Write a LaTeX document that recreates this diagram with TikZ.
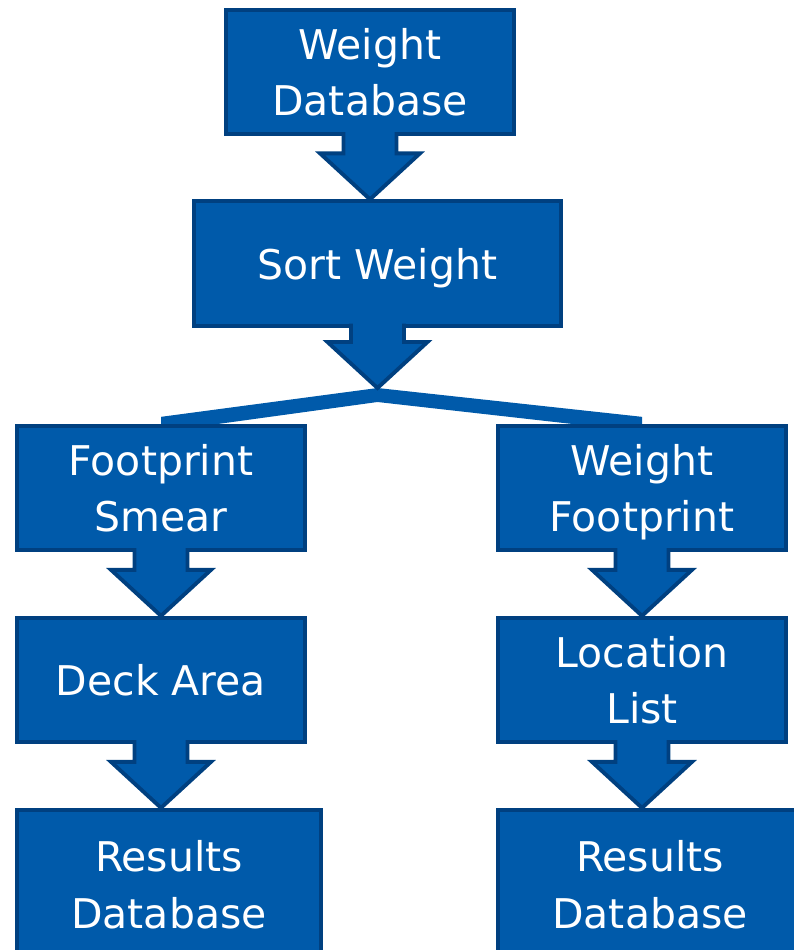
\documentclass[tikz,border=0pt]{standalone}
\usepackage{fontspec}
\newfontfamily\boxfont{DejaVu Sans}
\usetikzlibrary{backgrounds}
\usetikzlibrary{positioning}
\usetikzlibrary{calc}
\definecolor{boxblue}{RGB}{0,90,170}
\definecolor{boxedge}{RGB}{0,64,128}

\tikzset{
  stage/.style={draw=boxedge, fill=boxblue, line width=2.2pt, text=white,
    align=center, inner sep=0pt, minimum width=5.77cm, minimum height=2.49cm,
    text depth=0pt, font=\boxfont\fontsize{23.3}{32.3}\selectfont},
  forkbar/.style={fill=boxblue},
}

% block arrow from the bottom of node #1 down to the point #2
\newcommand{\blkarrow}[2]{%
  \coordinate (t) at (#1.south |- #2);
  \fill[boxblue] ($(#1.south)+(-26.5,-4)$) -- ($(t)+(-26.5,-46)$) -- ($(t)+(-50,-46)$) -- (t)
    -- ($(t)+(50,-46)$) -- ($(t)+(26.5,-46)$) -- ($(#1.south)+(26.5,-4)$) -- cycle;
  \draw[boxedge, line width=2.2pt] ($(#1.south)+(-26.5,-4)$) -- ($(t)+(-26.5,-46)$) -- ($(t)+(-50,-46)$) -- (t)
    -- ($(t)+(50,-46)$) -- ($(t)+(26.5,-46)$) -- ($(#1.south)+(26.5,-4)$);
}

\begin{document}
\begin{tikzpicture}[x=0.02cm, y=-0.02cm]
      \path[use as bounding box, clip] (0,0) rectangle (794,950);

      \node[stage] (wdb)  at (370,72)    {Weight\\Database};
      \node[stage, minimum width=7.35cm] (srt) at (377.5,263.5) {Sort Weight};
      \node[stage] (foot) at (161,488)   {Footprint\\Smear};
      \node[stage] (wfp)  at (642,488)   {Weight\\Footprint};
      \node[stage] (deck) at (161,680)   {Deck Area};
      \node[stage] (loc)  at (642,680)   {Location\\List};
      \node[stage, minimum width=6.09cm, minimum height=2.99cm] (resl) at (169,884.5) {Results\\Database};
      \node[stage, minimum width=6.09cm, minimum height=2.99cm] (resr) at (650,884.5) {Results\\Database};

      \coordinate (fork) at (377.5,388);

      \blkarrow{wdb}{srt.north}
      \blkarrow{srt}{fork}
      \blkarrow{foot}{deck.north}
      \blkarrow{deck}{resl.north}
      \blkarrow{wfp}{loc.north}
      \blkarrow{loc}{resr.north}

      \begin{scope}[on background layer]
        \fill[forkbar] ($(foot.north)+(0,-7)$) -- (fork) -- ($(wfp.north)+(0,-7)$)
          -- ($(wfp.north)+(0,8)$) -- ($(fork)+(0,14)$) -- ($(foot.north)+(0,8)$) -- cycle;
      \end{scope}
    \end{tikzpicture}
\end{document}
